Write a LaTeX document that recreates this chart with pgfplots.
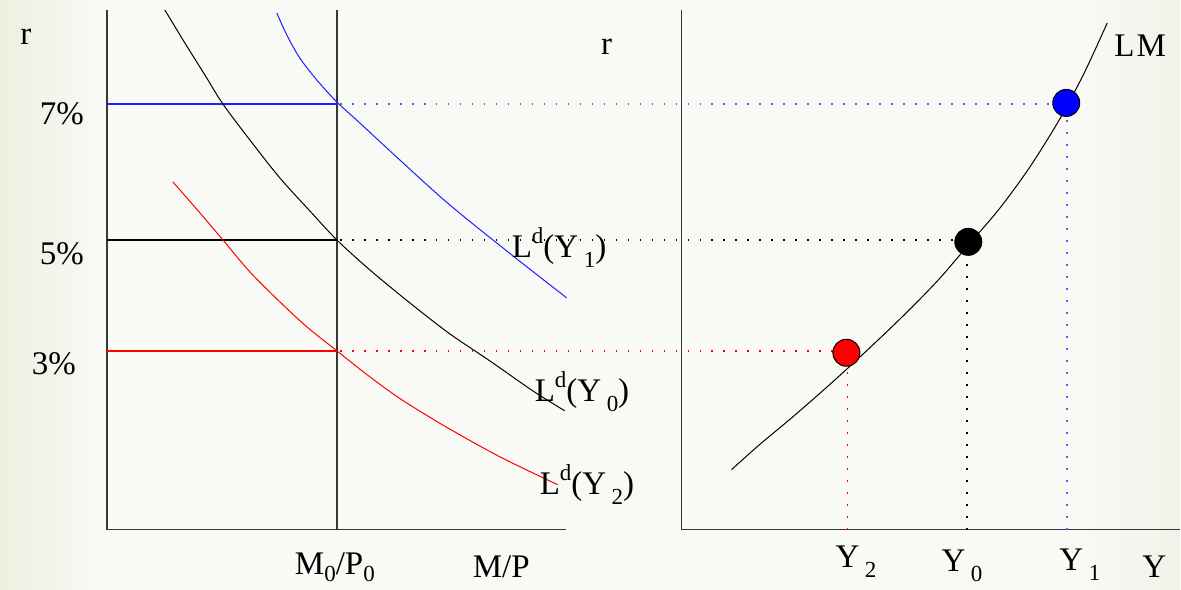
\documentclass[border=0pt]{standalone}
\usepackage{pgfplots}
\pgfplotsset{compat=1.18}
\usepackage{fontspec}
\setmainfont{Liberation Serif}
\definecolor{axgray}{RGB}{55,55,55}
\definecolor{bgmid}{RGB}{249,249,246}
\definecolor{bgleft}{RGB}{236,240,224}
\definecolor{bgright}{RGB}{241,243,232}
\definecolor{lblue}{RGB}{30,30,255}
\definecolor{dblue}{RGB}{90,90,255}
\newcommand\sub[1]{\raisebox{-0.3em}{\fontsize{23}{26}\selectfont #1}}
\newcommand\subb[1]{\raisebox{-0.22em}{\fontsize{23}{26}\selectfont #1}}
\newcommand\sups[1]{\raisebox{0.42em}{\fontsize{23}{26}\selectfont #1}}
\tikzset{lbl/.style={font=\fontsize{33}{40}\selectfont, inner sep=0pt}}
\begin{document}
\begin{tikzpicture}
\begin{axis}[
  scale only axis, width=1181pt, height=590pt,
  xmin=0, xmax=1181, ymin=0, ymax=590, y dir=reverse,
  hide axis, clip=false,
]
% background
\addplot[draw=none, fill=bgmid] coordinates {(0,0) (1181,0) (1181,590) (0,590)} -- cycle;
\addplot[draw=none, left color=bgleft, right color=bgmid] coordinates {(0,0) (100,0) (100,590) (0,590)} -- cycle;
\addplot[draw=none, left color=bgmid, right color=bgright] coordinates {(1080,0) (1181,0) (1181,590) (1080,590)} -- cycle;

% axes
\addplot[axgray, line width=1.7pt] coordinates {(107,10) (107,530) (566,530)};
\addplot[axgray, line width=1.7pt] coordinates {(337,10) (337,530)};
\addplot[axgray, line width=1.7pt] coordinates {(682,10) (682,530) (1181,530)};

% solid horizontal lines
\addplot[lblue, line width=1.6pt] coordinates {(107,104) (337,104)};
\addplot[black, line width=1.6pt] coordinates {(107,240) (337,240)};
\addplot[red, line width=1.6pt] coordinates {(107,351) (337,351)};

% dotted guides
\addplot[dblue, line width=1.8pt, dash pattern=on 1.8pt off 10.2pt] coordinates {(340,104) (1068,104)};
\addplot[black, line width=1.8pt, dash pattern=on 1.8pt off 10.2pt] coordinates {(340,240) (968,240)};
\addplot[red, line width=1.8pt, dash pattern=on 1.8pt off 10.2pt] coordinates {(340,351) (848,351)};
\addplot[dblue, line width=1.8pt, dash pattern=on 1.8pt off 10.2pt] coordinates {(1068,530) (1068,104)};
\addplot[black, line width=1.8pt, dash pattern=on 1.8pt off 10.2pt] coordinates {(968,530) (968,240)};
\addplot[red, line width=1.8pt, dash pattern=on 1.8pt off 10.2pt] coordinates {(848,530) (848,351)};

% money demand curves
\addplot[lblue, line width=1pt, smooth] coordinates {
 (277,13) (287,35) (300,58) (317,80) (337,102) (360,123) (400,160) (450,205) (512,255) (567,298)};
\addplot[black, line width=1pt, smooth] coordinates {
 (165,10) (185,43) (205,75) (223,104) (250,140) (280,178) (310,211) (337,240) (370,270) (410,303) (450,334) (490,361) (533,391) (565,411)};
\addplot[red, line width=1pt, smooth] coordinates {
 (173,182) (200,213) (223,240) (250,272) (280,302) (307,327) (337,351) (370,377) (402,400) (446,427) (500,457) (558,485)};

% LM curve
\addplot[black, line width=1pt, smooth] coordinates {
 (732,470) (760,445) (790,420) (820,394) (850,367) (880,339) (910,310) (940,279) (970,244) (1000,209) (1030,168) (1060,120) (1085,73) (1108,23)};

% equilibrium points
\addplot[only marks, mark=*, mark size=13.5pt, mark options={draw=black, line width=1pt, fill=red}] coordinates {(847,353)};
\addplot[only marks, mark=*, mark size=13.5pt, mark options={draw=black, line width=1pt, fill=black}] coordinates {(969,242)};
\addplot[only marks, mark=*, mark size=13.5pt, mark options={draw=black, line width=1pt, fill=blue}] coordinates {(1067,103)};

% labels
\node[lbl, anchor=base] at (axis cs:26,45) {r};
\node[lbl, anchor=base] at (axis cs:607,55) {r};
\node[lbl, anchor=base] at (axis cs:62,125) {7\%};
\node[lbl, anchor=base] at (axis cs:62,265) {5\%};
\node[lbl, anchor=base] at (axis cs:54,375) {3\%};
\node[lbl, anchor=base] at (axis cs:1141,57) {L\kern2pt M};
\node[lbl, anchor=base west] at (axis cs:295,575) {M\subb{0}/P\subb{0}};
\node[lbl, anchor=base west] at (axis cs:473,578) {M/P};
\node[lbl, anchor=base west] at (axis cs:836,568) {Y\,\sub{2}};
\node[lbl, anchor=base west] at (axis cs:942,572) {Y\,\sub{0}};
\node[lbl, anchor=base west] at (axis cs:1060,571) {Y\,\sub{1}};
\node[lbl, anchor=base west] at (axis cs:1143,578) {Y};
\node[lbl, anchor=base west] at (axis cs:512,258) {L\sups{d}(Y\,\sub{1})};
\node[lbl, anchor=base west] at (axis cs:535,402) {L\sups{d}(Y\,\sub{0})};
\node[lbl, anchor=base west] at (axis cs:540,495) {L\sups{d}(Y\,\sub{2})};
\end{axis}
\end{tikzpicture}
\end{document}
